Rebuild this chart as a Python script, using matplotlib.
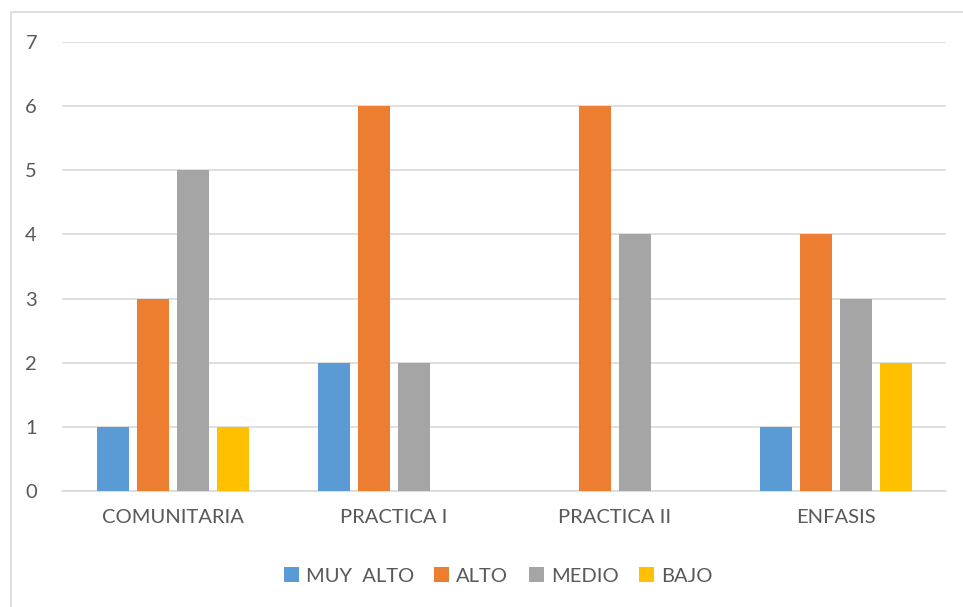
import matplotlib
matplotlib.use("Agg")
import matplotlib.pyplot as plt
from matplotlib.patches import Rectangle
import numpy as np

categories = ["COMUNITARIA", "PRACTICA I", "PRACTICA II", "ENFASIS"]
series_names = ["MUY  ALTO", "ALTO", "MEDIO", "BAJO"]
muy_alto = [1, 2, 0, 1]
alto = [3, 6, 6, 4]
medio = [5, 2, 4, 3]
bajo = [1, 0, 0, 2]
colors = ["#5b9bd5", "#ed7d31", "#a5a5a5", "#ffc000"]

plt.rcParams['font.family'] = ['Lato', 'DejaVu Sans']

fig = plt.figure(figsize=(9.63, 6.07), dpi=100)
W, H = 963, 607
ax = fig.add_axes([62 / W, 1 - 491 / H, (946 - 62) / W, (491 - 42) / H])

fig.patches.append(Rectangle((11 / W, -0.1), 1.2, 1 - 12 / H + 0.1, transform=fig.transFigure,
                             fill=False, edgecolor="#d9d9d9", linewidth=1.2))

x = np.arange(len(categories))
bw = 0.145
step = 0.181
data = [muy_alto, alto, medio, bajo]
for i, (vals, name, c) in enumerate(zip(data, series_names, colors)):
    ax.bar(x + (i - 1.5) * step + 0.003, vals, width=bw, color=c, label=name, zorder=3)

ax.set_xlim(-0.5, 3.5)
ax.set_ylim(0, 7)
ax.set_yticks(range(0, 8))
ax.yaxis.grid(True, color="#d9d9d9", linewidth=1.2, zorder=0)
for s in ["top", "right", "left"]:
    ax.spines[s].set_visible(False)
ax.spines["bottom"].set_color("#d9d9d9")
ax.spines["bottom"].set_linewidth(1.2)
ax.set_xticks(x)
ax.set_xticklabels(categories)
ax.tick_params(axis="both", length=0, labelsize=14.5, labelcolor="#595959")
ax.tick_params(axis="y", pad=18)
ax.tick_params(axis="x", pad=13)

leg = ax.legend(loc="center", bbox_to_anchor=(498 / W, 1 - 576 / H), bbox_transform=fig.transFigure,
                ncol=4, frameon=False, fontsize=14.5, handlelength=0.75, handleheight=0.75,
                columnspacing=1.0, handletextpad=0.35)
for t in leg.get_texts():
    t.set_color("#595959")

fig.savefig("out.png", dpi=100)
